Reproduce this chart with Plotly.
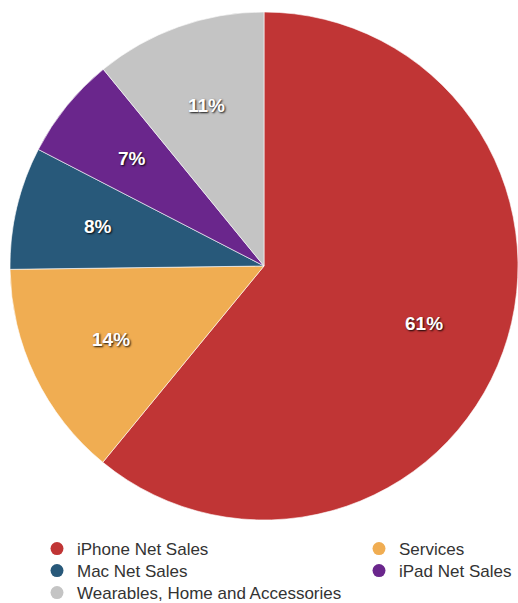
import math
import plotly.graph_objects as go

categories = ["iPhone Net Sales", "Services", "Mac Net Sales", "iPad Net Sales",
              "Wearables, Home and Accessories"]
values = [55.957, 12.715, 7.160, 5.977, 10.010]  # billions USD
colors = ["#C03535", "#F0AD52", "#28597A", "#6A268C", "#C4C4C4"]
# legend layout: (column, row) per category
legend_cells = {"iPhone Net Sales": (0, 0), "Services": (1, 0), "Mac Net Sales": (0, 1),
                "iPad Net Sales": (1, 1), "Wearables, Home and Accessories": (0, 2)}

W, H = 518, 603
ML, MR, MT, MB = 10, 0, 12, 83
PW, PH = W - ML - MR, H - MT - MB

fig = go.Figure()
fig.add_trace(go.Pie(
    labels=categories, values=values, sort=False, direction="clockwise", rotation=0,
    marker=dict(colors=colors, line=dict(color="white", width=0.6)),
    textinfo="none", showlegend=False, hoverinfo="label+percent",
    domain=dict(x=[0, 1], y=[0, 1]),
))

# percentage labels placed along each slice's mid-angle
total = sum(values)
cum = 0.0
label_r = 0.67
for v in values:
    frac = v / total
    mid = (cum + frac / 2) * 2 * math.pi
    cum += frac
    fig.add_annotation(
        x=0.5 + 0.5 * label_r * math.sin(mid), y=0.5 + 0.5 * label_r * math.cos(mid),
        xref="paper", yref="paper", xanchor="center", yanchor="middle",
        text=f"{frac:.0%}", showarrow=False,
        font=dict(family="Liberation Sans", size=19, color="white", weight="bold",
                  shadow="1px 1px 2px rgba(0,0,0,0.9)"))

col_x = [37, 359]
row_y = [549, 571, 593]
layout_legends = {}
for i, (name, color) in enumerate(zip(categories, colors)):
    key = "legend" if i == 0 else f"legend{i + 1}"
    c, r = legend_cells[name]
    fig.add_trace(go.Scatter(x=[None], y=[None], mode="markers", name=name,
                             marker=dict(color=color, size=13), legend=key,
                             hoverinfo="skip"))
    layout_legends[key] = dict(
        font=dict(family="Liberation Sans", size=17, color="#333333"),
        bgcolor="rgba(0,0,0,0)", itemwidth=30,
        x=(col_x[c] - ML) / PW, y=(H - MB - row_y[r]) / PH,
        xanchor="left", yanchor="middle")

fig.update_layout(
    width=W, height=H,
    margin=dict(l=ML, r=MR, t=MT, b=MB, autoexpand=False),
    paper_bgcolor="white", plot_bgcolor="white",
    xaxis=dict(visible=False), yaxis=dict(visible=False),
    **layout_legends,
)
fig.write_html("out.html")
